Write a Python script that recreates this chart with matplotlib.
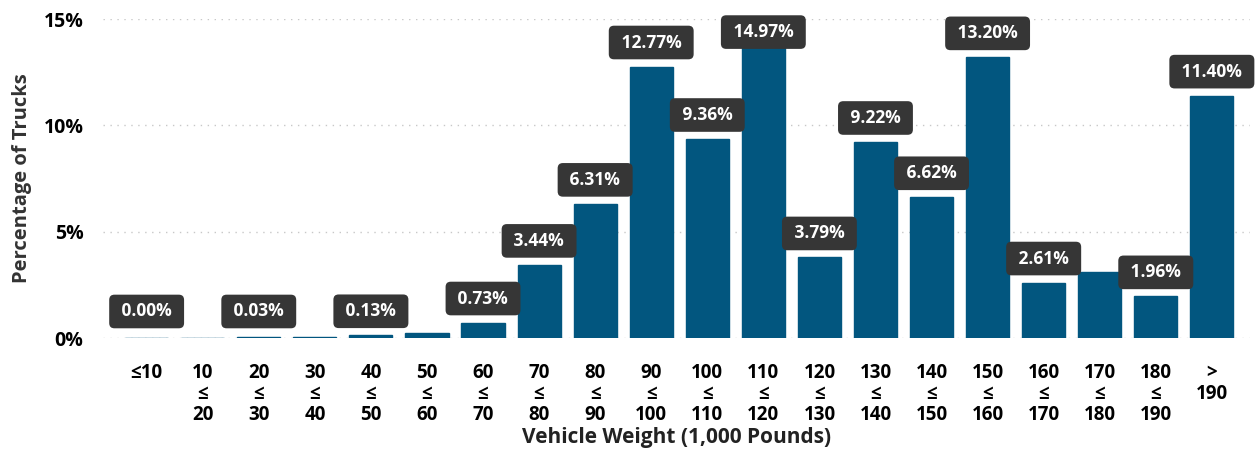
import matplotlib.pyplot as plt

plt.rcParams['font.family'] = ['Open Sans', 'DejaVu Sans']
plt.rcParams['font.weight'] = 'bold'

# weight bins (1,000 lb) and share of trucks
bins = ['\u226410', '10\n\u2264\n20', '20\n\u2264\n30', '30\n\u2264\n40', '40\n\u2264\n50',
        '50\n\u2264\n60', '60\n\u2264\n70', '70\n\u2264\n80', '80\n\u2264\n90', '90\n\u2264\n100',
        '100\n\u2264\n110', '110\n\u2264\n120', '120\n\u2264\n130', '130\n\u2264\n140',
        '140\n\u2264\n150', '150\n\u2264\n160', '160\n\u2264\n170', '170\n\u2264\n180',
        '180\n\u2264\n190', '>\n190']
pct = [0.00, 0.01, 0.03, 0.03, 0.13, 0.22, 0.73, 3.44, 6.31, 12.77,
       9.36, 14.97, 3.79, 9.22, 6.62, 13.20, 2.61, 3.13, 1.96, 11.40]
# which bars carry a data label
labelled = [1, 0, 1, 0, 1, 0, 1, 1, 1, 1,
            1, 1, 1, 1, 1, 1, 1, 0, 1, 1]

fig = plt.figure(figsize=(12.55, 4.55), dpi=100)
ax = fig.add_axes([0.082, 0.257, 0.914, 0.701])

x = range(len(bins))
ax.bar(x, pct, width=0.77, color='#02567f', edgecolor='#02567f', linewidth=1.0, zorder=2)

for i, (v, show) in enumerate(zip(pct, labelled)):
    if not show:
        continue
    # label sits above the bar, kept inside the plot at the top
    y = min(max(v + 1.13, 1.25), 14.39)
    ax.text(i, y, f' {v:.2f}% ', ha='center', va='center', color='white',
            fontsize=12.5, fontweight='bold', zorder=3,
            bbox=dict(boxstyle='round,pad=0.45,rounding_size=0.3', fc='#363636', ec='none'))

ax.set_xlim(-0.78, 19.68)
ax.set_ylim(0, 15)
ax.set_yticks([0, 5, 10, 15])
ax.set_yticklabels(['0%', '5%', '10%', '15%'], fontsize=14, fontweight='bold')
ax.set_xticks(list(x))
ax.set_xticklabels(bins, fontsize=13.5, fontweight='bold', linespacing=1.05, va='top')
ax.tick_params(length=0)
ax.tick_params(axis='x', pad=18)
ax.tick_params(axis='y', pad=14)

ax.grid(axis='y', linestyle=(0, (1, 4)), color='#c8c8c8', linewidth=1, zorder=0)
for s in ax.spines.values():
    s.set_visible(False)

ax.set_ylabel('Percentage of Trucks', fontsize=14.5, fontweight='bold', color='#333333', labelpad=8)
ax.set_xlabel('Vehicle Weight (1,000 Pounds)', fontsize=15, fontweight='bold', color='#222222', labelpad=2)

plt.savefig('out.png', dpi=100)
plt.close()
